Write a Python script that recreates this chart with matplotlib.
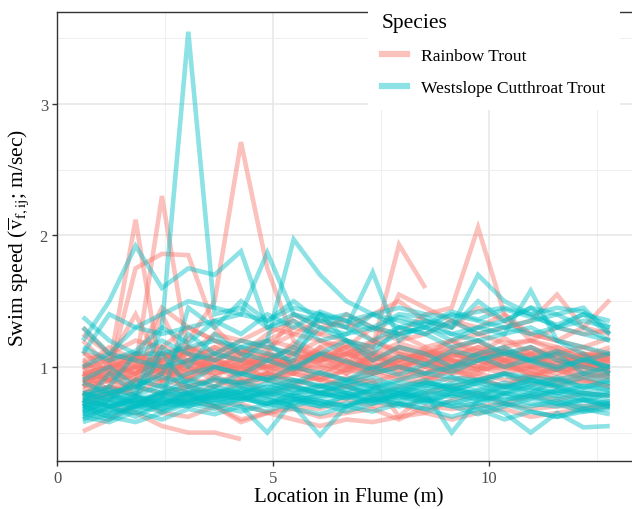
import numpy as np
import matplotlib
matplotlib.use("Agg")
import matplotlib.pyplot as plt
from matplotlib.lines import Line2D

# Positions along the flume (m)
location = [0.60, 1.21, 1.82, 2.43, 3.04, 3.65, 4.26, 4.87, 5.48, 6.09, 6.70,
            7.31, 7.92, 8.53, 9.14, 9.75, 10.36, 10.97, 11.58, 12.19, 12.80]

N = None

# Rainbow Trout tracks (m/sec)
rainbow = [
    [0.95, 1.00, 2.12, 0.90, 1.05, 0.98, 1.02, 1.05, 1.00, 1.10, 1.05, 0.98, 1.08, 1.02, 1.10, 1.05, 1.12, 1.00, 0.95, 1.02, 0.98],
    [0.85, 0.90, 1.00, 2.30, 1.10, 1.00, 0.95, 1.08, 1.12, 1.05, 1.15, 1.00, 1.05, 1.10, 1.00, 1.12, 1.08, 1.05, 0.98, 1.05, 1.00],
    [0.90, 0.95, 1.75, 1.86, 1.85, 1.30, 1.10, 1.20, 1.15, 1.05, 1.10, 1.20, 1.12, 1.05, 1.15, 1.20, 1.10, 1.15, 1.05, 1.10, 1.08],
    [0.80, 0.85, 0.95, 1.05, 1.20, 1.50, 2.71, 1.75, 1.20, 1.10, 1.00, 1.05, 1.15, 1.10, 1.05, 1.00, 1.10, 1.05, 1.00, 0.95, 1.00],
    [1.30, 1.10, 1.00, 1.10, 1.05, 1.15, 1.10, 1.20, 1.30, 1.25, 1.20, 1.15, 1.93, 1.60, N, N, N, N, N, N, N],
    [1.00, 1.05, 1.10, 1.00, 1.15, 1.10, 1.20, 1.15, 1.25, 1.20, 1.15, 1.30, 1.25, 1.40, 1.45, 2.06, 1.40, 1.20, 1.15, 1.10, 1.05],
    [0.75, 0.70, 0.65, 0.55, 0.50, 0.50, 0.45, N, N, N, N, N, N, N, N, N, N, N, N, N, N],
    [0.51, 0.60, 0.72, 0.80, 0.85, 0.90, 0.88, 0.92, 0.95, 0.90, 0.98, 0.95, 1.00, 0.95, 1.02, 0.98, 1.00, 0.95, 0.98, 0.92, 0.95],
    [0.95, 1.00, 1.05, 1.45, 1.30, 1.20, 1.10, 1.15, 1.10, 1.20, 1.10, 1.15, 1.55, 1.45, 1.35, 1.25, 1.30, 1.35, 1.55, 1.30, 1.51],
    [0.75, 0.80, 0.85, 0.80, 0.75, 0.70, 0.72, 0.65, 0.68, 0.62, 0.65, 0.68, 0.60, 0.70, 0.68, 0.70, 0.72, 0.68, 0.70, 0.70, 0.72],
    [0.90, 0.95, 0.90, 1.00, 0.95, 1.05, 0.98, 1.00, 1.05, 1.10, 1.08, 1.12, 1.05, 1.00, 1.08, 1.15, 1.10, 1.05, 1.12, 1.08, 1.05],
    [1.05, 1.10, 1.20, 1.15, 1.10, 1.05, 1.00, 1.10, 1.40, 1.30, 1.35, 1.20, 1.25, 1.15, 1.20, 1.25, 1.18, 1.20, 1.30, 1.25, 1.28],
    [0.85, 0.95, 1.00, 0.95, 1.05, 1.00, 0.90, 0.95, 1.00, 0.95, 1.05, 0.95, 0.90, 1.00, 0.95, 0.98, 1.02, 0.95, 0.90, 0.95, 0.92],
    [0.70, 0.80, 0.90, 0.85, 0.80, 0.85, 0.90, 0.80, 0.85, 0.80, 0.85, 0.90, 0.62, 0.80, 0.85, 0.90, 0.95, 0.88, 0.85, 0.90, 0.85],
    [1.10, 1.05, 1.40, 1.00, 0.80, 0.70, 0.60, 0.65, 0.60, 0.55, 0.60, 0.58, 0.62, 0.65, 0.60, 0.65, 0.68, 0.62, 0.65, 0.68, 0.70],
    [0.95, 0.90, 0.85, 0.95, 1.00, 1.10, 1.05, 1.00, 0.95, 1.05, 1.10, 1.00, 1.05, 1.10, 1.15, 1.05, 1.00, 1.10, 1.05, 0.95, 1.00],
    [1.20, 1.00, 0.95, 1.05, 1.10, 1.25, 1.20, 1.30, 1.25, 1.35, 1.30, 1.40, 1.50, 1.35, 1.30, 1.45, 1.35, 1.25, 1.20, 1.30, 1.25],
    [0.80, 0.75, 0.90, 1.40, 1.00, 0.90, 0.85, 0.90, 0.95, 0.90, 0.85, 0.95, 1.00, 0.95, 1.05, 1.00, 0.95, 1.00, 0.98, 1.00, 0.95],
    [0.88, 0.92, 1.02, 0.98, 0.90, 1.00, 1.05, 1.00, 1.10, 1.02, 0.98, 1.05, 1.10, 1.05, 1.00, 1.08, 1.12, 1.08, 1.02, 1.08, 1.10],
    [0.92, 1.05, 0.95, 1.08, 1.15, 1.05, 1.12, 1.08, 1.02, 1.15, 1.20, 1.10, 1.00, 1.08, 1.12, 1.02, 1.05, 1.12, 1.08, 1.02, 1.06],
    [1.02, 0.98, 1.08, 1.02, 0.98, 0.95, 1.00, 0.92, 0.98, 1.00, 0.95, 1.02, 0.98, 1.10, 1.05, 1.10, 1.00, 0.98, 1.05, 1.00, 1.02],
    [0.78, 0.85, 0.80, 0.90, 0.85, 0.92, 0.88, 0.95, 0.90, 0.85, 0.92, 0.88, 0.95, 0.92, 0.90, 0.95, 0.90, 0.92, 0.88, 0.92, 0.95],
    [0.98, 1.08, 0.92, 1.12, 0.95, 1.05, 1.15, 0.98, 1.10, 1.02, 1.18, 1.05, 0.95, 1.10, 1.20, 1.08, 1.15, 1.02, 1.10, 1.05, 1.12],
    [0.85, 1.02, 0.88, 1.00, 1.10, 0.92, 1.05, 1.12, 0.98, 1.08, 0.95, 1.10, 1.02, 1.15, 1.05, 0.98, 1.12, 1.08, 0.98, 1.10, 1.02],
    [1.05, 0.90, 1.08, 0.95, 1.15, 1.05, 0.92, 1.02, 1.18, 1.05, 1.12, 0.98, 1.08, 1.00, 1.12, 1.20, 1.05, 1.15, 1.08, 0.98, 1.05],
    [0.92, 0.98, 1.10, 1.05, 0.90, 1.12, 1.02, 1.08, 0.95, 1.15, 1.02, 1.20, 1.10, 1.05, 0.98, 1.10, 1.22, 1.10, 1.15, 1.05, 0.96],
    [1.12, 0.95, 1.00, 0.88, 1.05, 0.98, 1.10, 0.95, 1.05, 0.98, 1.10, 1.05, 1.15, 1.08, 1.20, 1.12, 1.05, 1.00, 1.10, 1.15, 1.08],
    [0.82, 0.90, 0.98, 1.10, 1.02, 0.95, 1.00, 1.05, 1.15, 1.08, 1.00, 1.10, 1.18, 1.12, 1.08, 1.15, 1.02, 1.10, 1.00, 1.05, 1.10],
    [0.78, 0.95, 1.05, 0.90, 0.98, 1.08, 0.95, 1.10, 1.02, 0.92, 1.05, 0.98, 1.02, 0.95, 1.10, 1.05, 0.98, 1.05, 1.12, 1.00, 0.98],
    [1.00, 0.88, 0.95, 1.05, 1.12, 1.00, 1.08, 0.98, 1.05, 1.12, 1.02, 0.95, 1.05, 1.12, 1.02, 1.10, 1.05, 0.92, 1.02, 1.08, 1.15],
    [0.88, 1.00, 1.10, 0.95, 1.05, 1.15, 1.05, 0.90, 1.00, 1.08, 1.15, 1.08, 1.00, 1.05, 0.95, 1.05, 1.15, 1.20, 1.12, 1.02, 1.00],
    [0.95, 0.82, 0.90, 1.00, 0.92, 0.85, 0.98, 0.90, 0.85, 0.95, 0.90, 0.98, 0.92, 0.88, 0.98, 0.92, 0.85, 0.95, 0.90, 0.88, 0.92],
    [0.72, 0.85, 0.78, 0.65, 0.62, 0.70, 0.58, 0.65, 0.70, 0.68, 0.75, 0.70, 0.72, 0.65, 0.75, 0.80, 0.72, 0.78, 0.75, 0.80, 0.78],
    [1.25, 1.10, 1.05, 1.15, 1.30, 1.20, 1.10, 1.25, 1.35, 1.25, 1.40, 1.30, 1.20, 1.25, 1.35, 1.30, 1.40, 1.25, 1.20, 1.15, 1.22],
    [0.90, 0.78, 0.85, 0.95, 0.85, 0.78, 0.88, 0.95, 0.88, 0.92, 0.85, 0.78, 0.85, 0.90, 0.98, 0.90, 0.85, 0.92, 0.98, 0.90, 0.85],
    [1.00, 1.15, 1.05, 0.98, 0.92, 1.02, 0.95, 1.05, 1.00, 0.90, 0.98, 1.08, 1.00, 0.92, 1.00, 0.95, 1.05, 0.98, 0.92, 1.02, 1.08],
]

# Westslope Cutthroat Trout tracks (m/sec)
cutthroat = [
    [0.70, 0.75, 0.80, 1.30, 3.55, 1.40, 1.45, 1.30, 1.35, 1.20, 1.25, 1.30, 1.25, 1.30, 1.20, 1.30, 1.25, 1.30, 1.20, 1.15, 1.10],
    [1.20, 1.50, 1.92, 1.60, 1.75, 1.70, 1.88, 1.30, 1.40, 1.35, 1.30, 1.20, 1.30, 1.25, 1.35, 1.25, 1.30, 1.35, 1.40, 1.30, 1.20],
    [1.00, 1.10, 1.30, 1.40, 1.50, 1.45, 1.40, 1.87, 1.40, 1.30, 1.25, 1.40, 1.30, 1.35, 1.25, 1.30, 1.35, 1.45, 1.40, 1.45, 1.25],
    [0.80, 0.85, 1.10, 1.20, 1.10, 1.05, 1.15, 1.20, 1.97, 1.70, 1.50, 1.40, 1.35, 1.30, 1.40, 1.35, 1.30, 1.25, 1.30, 1.25, 1.20],
    [1.38, 1.20, 1.10, 1.10, 1.15, 1.20, 1.15, 1.10, 1.05, 1.40, 1.30, 1.72, 1.20, 1.35, 1.30, 1.70, 1.50, 1.40, 1.30, 1.35, 1.30],
    [0.75, 0.70, 0.72, 0.80, 0.78, 0.75, 0.70, 0.50, 0.75, 0.70, 0.72, 0.75, 0.78, 0.72, 0.80, 0.75, 0.78, 0.72, 0.70, 0.75, 0.72],
    [0.70, 0.65, 0.70, 0.75, 0.72, 0.78, 0.80, 0.75, 0.70, 0.48, 0.70, 0.75, 0.80, 0.78, 0.82, 0.80, 0.75, 0.78, 0.72, 0.75, 0.70],
    [0.68, 0.72, 0.75, 0.78, 0.80, 0.82, 0.80, 0.85, 0.80, 0.82, 0.85, 0.80, 0.76, 0.80, 0.50, 0.75, 0.80, 0.78, 0.82, 0.80, 0.78],
    [0.65, 0.60, 0.70, 0.72, 0.75, 0.78, 0.76, 0.80, 0.78, 0.80, 0.78, 0.82, 0.80, 0.75, 0.70, 0.72, 0.65, 0.50, 0.65, 0.54, 0.55],
    [0.60, 0.70, 0.75, 0.80, 0.85, 0.90, 0.88, 0.92, 0.90, 0.85, 0.88, 0.85, 0.90, 0.95, 0.92, 0.90, 0.95, 0.92, 0.90, 0.95, 0.92],
    [0.75, 0.80, 0.85, 0.80, 0.90, 0.85, 0.95, 0.90, 1.00, 0.95, 0.90, 0.95, 1.00, 0.95, 1.00, 1.05, 1.10, 1.05, 1.00, 1.05, 1.00],
    [0.72, 0.95, 0.80, 1.15, 1.00, 1.25, 1.10, 1.05, 1.15, 1.40, 1.20, 1.10, 1.30, 1.25, 1.15, 1.20, 1.25, 1.58, 1.20, 1.10, 0.95],
    [0.65, 0.75, 0.70, 0.82, 0.78, 0.85, 0.80, 0.88, 0.82, 0.85, 0.90, 0.85, 0.82, 0.88, 0.85, 0.90, 0.95, 0.90, 0.85, 0.80, 0.78],
    [1.10, 1.40, 1.30, 1.25, 1.30, 1.35, 1.40, 1.35, 1.45, 1.40, 1.35, 1.40, 1.45, 1.40, 1.38, 1.42, 1.45, 1.40, 1.45, 1.42, 1.30],
    [0.70, 0.78, 0.72, 0.75, 1.45, 1.30, 1.50, 1.35, 1.50, 1.35, 1.40, 1.30, 1.40, 1.38, 1.30, 1.50, 1.35, 1.45, 1.30, 1.40, 1.25],
    [0.62, 0.68, 0.65, 0.72, 0.70, 0.75, 0.78, 0.72, 0.75, 0.78, 0.80, 0.76, 0.72, 0.75, 0.78, 0.82, 0.80, 0.85, 0.80, 0.75, 0.70],
    [0.80, 0.75, 0.90, 0.85, 0.95, 1.00, 0.95, 0.90, 0.85, 0.80, 0.88, 0.92, 0.85, 0.80, 0.88, 0.90, 0.85, 0.80, 0.90, 0.85, 0.88],
    [0.74, 0.70, 0.78, 0.72, 0.80, 0.76, 0.82, 0.78, 0.84, 0.80, 0.76, 0.82, 0.78, 0.84, 0.86, 0.82, 0.88, 0.84, 0.80, 0.86, 0.82],
    [0.68, 0.62, 0.70, 0.76, 0.74, 0.80, 0.84, 0.80, 0.76, 0.72, 0.78, 0.74, 0.70, 0.74, 0.80, 0.76, 0.72, 0.70, 0.74, 0.68, 0.72],
    [0.90, 1.00, 0.85, 0.95, 1.25, 1.10, 1.05, 1.20, 1.00, 1.10, 1.20, 1.05, 1.15, 1.10, 1.00, 1.10, 1.15, 1.05, 1.10, 0.95, 1.00],
    [0.78, 0.82, 0.76, 1.10, 0.85, 0.80, 0.88, 0.84, 0.90, 0.86, 0.80, 0.84, 0.88, 0.86, 0.82, 0.88, 0.84, 0.90, 0.86, 0.82, 0.85],
    [1.30, 1.10, 1.05, 1.00, 1.05, 1.10, 1.20, 1.15, 1.10, 1.30, 1.20, 1.15, 1.25, 1.30, 1.25, 1.20, 1.10, 1.15, 1.05, 1.00, 0.95],
    [0.72, 0.66, 0.78, 0.70, 0.82, 0.76, 0.84, 0.78, 0.72, 0.80, 0.86, 0.78, 0.84, 0.90, 0.82, 0.88, 0.94, 0.86, 0.92, 0.84, 0.90],
    [0.66, 0.74, 0.68, 0.76, 0.70, 0.78, 0.74, 0.82, 0.86, 0.80, 0.76, 0.84, 0.80, 0.86, 0.92, 0.86, 0.80, 0.88, 0.84, 0.78, 0.82],
    [0.80, 0.70, 0.74, 0.68, 0.78, 0.72, 0.80, 0.76, 0.70, 0.76, 0.82, 0.88, 0.82, 0.76, 0.72, 0.78, 0.74, 0.80, 0.76, 0.70, 0.74],
    [0.64, 0.70, 0.62, 0.72, 0.78, 0.72, 0.76, 0.82, 0.78, 0.74, 0.70, 0.76, 0.72, 0.68, 0.62, 0.68, 0.60, 0.66, 0.62, 0.68, 0.64],
    [0.76, 0.84, 0.78, 0.86, 0.80, 0.92, 0.86, 0.80, 0.88, 0.96, 0.90, 1.00, 0.94, 1.02, 0.96, 1.05, 1.12, 1.04, 0.98, 1.06, 1.00],
    [0.70, 0.78, 0.74, 0.68, 0.74, 0.70, 0.66, 0.72, 0.68, 0.64, 0.70, 0.66, 0.72, 0.68, 0.74, 0.68, 0.72, 0.66, 0.62, 0.66, 0.70],
    [1.15, 1.05, 1.12, 1.30, 1.18, 1.35, 1.25, 1.40, 1.30, 1.42, 1.35, 1.28, 1.38, 1.32, 1.42, 1.36, 1.44, 1.38, 1.32, 1.40, 1.35],
    [0.62, 0.58, 0.66, 0.60, 0.68, 0.64, 0.70, 0.66, 0.74, 0.70, 0.78, 0.72, 0.80, 0.76, 0.84, 0.78, 0.86, 0.82, 0.78, 0.74, 0.80],
    [0.74, 0.80, 0.86, 0.92, 0.88, 1.00, 0.94, 1.05, 0.98, 1.10, 1.04, 0.98, 1.08, 1.02, 1.12, 1.08, 1.00, 1.06, 1.12, 1.05, 1.10],
    [0.88, 0.80, 0.72, 0.78, 0.74, 0.82, 0.78, 0.70, 0.76, 0.72, 0.66, 0.72, 0.78, 0.74, 0.70, 0.64, 0.70, 0.76, 0.72, 0.66, 0.68],
    [0.58, 0.64, 0.70, 0.66, 0.74, 0.80, 0.76, 0.72, 0.80, 0.86, 0.80, 0.74, 0.80, 0.88, 0.84, 0.78, 0.84, 0.90, 0.86, 0.92, 0.88],
    [0.70, 0.62, 0.58, 0.65, 0.72, 0.68, 0.76, 0.72, 0.78, 0.74, 0.70, 0.78, 0.74, 0.82, 0.78, 0.72, 0.80, 0.76, 0.82, 0.78, 0.74],
]

species = ["Rainbow Trout", "Westslope Cutthroat Trout"]
colors = ["#F8766D", "#00BFC4"]


def main():
    plt.rcParams["font.family"] = ["Liberation Serif", "DejaVu Serif"]
    plt.rcParams["mathtext.fontset"] = "stix"

    fig = plt.figure(figsize=(6.32, 5.10), dpi=100)
    # panel runs off the right edge, like the cropped original
    ax = fig.add_axes([57 / 632, 48 / 510, 583 / 632, 449 / 510])

    for tracks, col in zip([rainbow, cutthroat], colors):
        for tr in tracks:
            y = np.array([np.nan if v is None else v for v in tr], dtype=float)
            ax.plot(location, y, color=col, alpha=0.45, lw=3.3,
                    solid_joinstyle="miter", solid_capstyle="butt")

    ax.set_xlim(0, 13.5)
    ax.set_ylim(0.284, 3.70)
    ax.set_xticks([0, 5, 10])
    ax.set_yticks([1, 2, 3])
    ax.set_xticks([2.5, 7.5, 12.5], minor=True)
    ax.set_yticks([0.5, 1.5, 2.5, 3.5], minor=True)
    ax.grid(True, which="major", color="#e6e6e6", lw=1.1)
    ax.grid(True, which="minor", color="#efefef", lw=0.7)
    ax.set_axisbelow(True)
    ax.tick_params(which="minor", length=0)
    ax.tick_params(which="major", length=3.5, width=1, color="#333333",
                   labelsize=12, labelcolor="#4d4d4d", pad=3)

    for s in ["left", "bottom", "top"]:
        ax.spines[s].set_color("#333333")
        ax.spines[s].set_linewidth(1.0)
    ax.spines["right"].set_visible(False)

    ax.set_xlabel("Location in Flume (m)", fontsize=15, labelpad=1)
    ax.set_ylabel(r"Swim speed ($\overline{\mathrm{v}}_{\mathrm{f,ij}}$; m/sec)",
                  fontsize=15.5, labelpad=6)

    handles = [Line2D([], [], color=c, alpha=0.45, lw=4.5) for c in colors]
    leg = ax.legend(handles, species, title="Species", loc="upper left",
                    bbox_to_anchor=(368 / 632, 1.0), bbox_transform=fig.transFigure,
                    fontsize=12.6, title_fontsize=15.5, frameon=True,
                    facecolor="white", edgecolor="none", framealpha=1,
                    fancybox=False, handlelength=1.45, handletextpad=0.8,
                    labelspacing=0.9, borderpad=0.8, alignment="left",
                    borderaxespad=0)
    leg.set_zorder(5)

    fig.savefig("out.png", dpi=100)


if __name__ == "__main__":
    main()
